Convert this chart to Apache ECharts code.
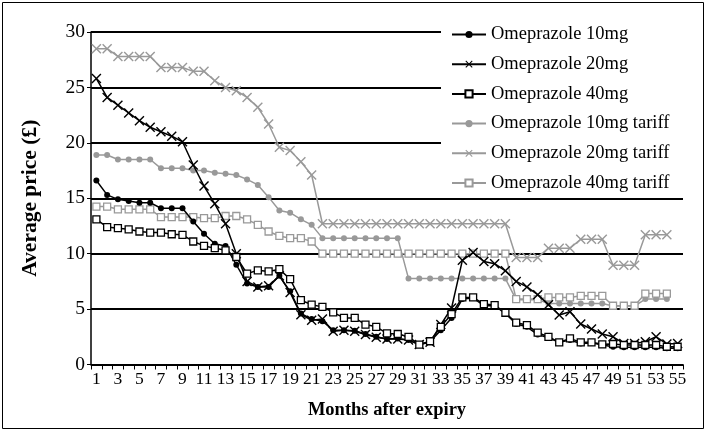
<!DOCTYPE html>
<html><head><meta charset="utf-8">
<script src="https://cdn.jsdelivr.net/npm/echarts@6/dist/echarts.min.js"></script>
<style>html,body{margin:0;padding:0;background:#fff}#c{width:710px;height:432px}</style>
</head><body><div id="c"></div>
<script>
const months = ['1','2','3','4','5','6','7','8','9','10','11','12','13','14','15','16','17','18','19','20','21','22','23','24','25','26','27','28','29','30','31','32','33','34','35','36','37','38','39','40','41','42','43','44','45','46','47','48','49','50','51','52','53','54','55'];
const seriesNames = ['Omeprazole 10mg','Omeprazole 20mg','Omeprazole 40mg','Omeprazole 10mg tariff','Omeprazole 20mg tariff','Omeprazole 40mg tariff'];
const yTicks = [0,5,10,15,20,25,30];

const ome10 = [16.6,15.3,14.9,14.75,14.6,14.6,14.1,14.1,14.1,12.9,11.8,10.9,10.7,9.0,7.3,7.0,7.0,8.0,6.6,4.6,4.1,3.9,3.1,3.1,3.05,2.75,2.5,2.3,2.35,2.2,1.8,2.05,3.1,4.2,5.9,6.0,5.3,5.3,4.6,3.65,3.4,2.7,2.4,2.0,2.2,1.9,1.95,1.76,1.6,1.55,1.55,1.55,1.55,1.46,1.46];
const ome20 = [25.8,24.1,23.4,22.7,22.0,21.4,21.0,20.6,20.1,18.0,16.1,14.5,12.7,10.0,7.5,7.0,7.1,8.0,6.5,4.5,4.0,4.1,3.0,3.1,3.0,2.7,2.45,2.3,2.3,2.2,1.8,2.0,3.6,5.1,9.4,10.1,9.3,9.1,8.45,7.5,7.0,6.3,5.4,4.46,4.76,3.65,3.2,2.75,2.5,1.9,1.9,2.05,2.5,1.85,1.9];
const ome40 = [13.1,12.4,12.3,12.2,12.0,11.9,11.9,11.75,11.7,11.1,10.7,10.5,10.3,9.7,8.2,8.5,8.4,8.6,7.7,5.8,5.4,5.2,4.7,4.2,4.2,3.6,3.4,2.8,2.75,2.5,1.8,2.1,3.4,4.55,6.05,6.05,5.45,5.36,4.67,3.77,3.56,2.87,2.5,2.0,2.36,2.0,2.0,1.82,1.85,1.76,1.76,1.76,1.76,1.6,1.6];
const ome10t = [18.9,18.9,18.5,18.5,18.5,18.5,17.7,17.7,17.7,17.5,17.5,17.3,17.2,17.1,16.7,16.2,15.1,13.9,13.7,13.1,12.6,11.4,11.4,11.4,11.4,11.4,11.4,11.4,11.4,7.75,7.75,7.75,7.75,7.75,7.75,7.75,7.75,7.75,7.75,5.85,5.85,5.85,5.5,5.5,5.5,5.5,5.5,5.5,5.27,5.27,5.27,5.9,5.9,5.9];
const ome20t = [28.5,28.5,27.8,27.8,27.8,27.8,26.8,26.8,26.8,26.45,26.45,25.6,25.0,24.7,24.1,23.2,21.7,19.6,19.3,18.3,17.1,12.7,12.7,12.7,12.7,12.7,12.7,12.7,12.7,12.7,12.7,12.7,12.7,12.7,12.7,12.7,12.7,12.7,12.7,9.65,9.65,9.65,10.5,10.5,10.5,11.3,11.3,11.3,8.95,8.95,8.95,11.7,11.7,11.7];
const ome40t = [14.25,14.25,14.0,14.0,14.0,14.0,13.3,13.3,13.3,13.3,13.2,13.2,13.4,13.4,13.1,12.6,12.0,11.6,11.4,11.4,11.1,10.0,10.0,10.0,10.0,10.0,10.0,10.0,10.0,10.0,10.0,10.0,10.0,10.0,10.0,10.0,10.0,10.0,10.0,5.9,5.9,5.9,6.05,6.05,6.05,6.2,6.2,6.2,5.3,5.3,5.3,6.4,6.4,6.4];

const FONT = "'Liberation Serif','Times New Roman',serif";
const BLACK = '#000000';
const GRAY = '#999999';
const XSYM = 'path://M0,1 L1,0 L5,4 L9,0 L10,1 L6,5 L10,9 L9,10 L5,6 L1,10 L0,9 L4,5 Z';

function mk(name, data, color, kind, z) {
  const s = {
    name: name, type: 'line', data: data, z: z,
    showAllSymbol: true,
    lineStyle: {color: color, width: 1.5},
    emphasis: {disabled: true},
    animation: false
  };
  if (kind === 'circle') {
    s.symbol = 'circle'; s.symbolSize = 6;
    s.itemStyle = {color: color};
  } else if (kind === 'x') {
    s.symbol = XSYM; s.symbolSize = 10;
    s.itemStyle = {color: color};
  } else {
    s.symbol = 'rect'; s.symbolSize = 7;
    s.itemStyle = {color: '#ffffff', borderColor: color, borderWidth: 1.3};
  }
  return s;
}

const chart = echarts.init(document.getElementById('c'), null, {renderer: 'canvas'});
chart.setOption({
  backgroundColor: '#ffffff',
  animation: false,
  textStyle: {fontFamily: FONT},
  graphic: [{
    type: 'rect', z: 100, silent: true,
    shape: {x: 2.5, y: 2.5, width: 701, height: 426},
    style: {fill: 'none', stroke: '#000', lineWidth: 1}
  }],
  grid: {left: 91, right: 27, top: 32, bottom: 67.5, containLabel: false},
  legend: {
    orient: 'vertical', left: 441, top: 20,
    backgroundColor: '#ffffff', padding: [5, 20, 5, 10],
    itemWidth: 34, itemHeight: 9, itemGap: 10.7,
    textStyle: {fontFamily: FONT, fontSize: 18.5, color: '#000'},
    data: seriesNames, z: 10
  },
  xAxis: {
    type: 'category', data: months, boundaryGap: true,
    name: 'Months after expiry', nameLocation: 'middle', nameGap: 36,
    nameTextStyle: {fontFamily: FONT, fontSize: 18.5, fontWeight: 'bold', color: '#000'},
    axisLine: {lineStyle: {color: '#000', width: 1.5}},
    axisTick: {show: true, interval: 0, length: 5, lineStyle: {color: '#000', width: 1}},
    axisLabel: {interval: 1, fontFamily: FONT, fontSize: 17.5, color: '#000', margin: 6, hideOverlap: false},
    splitLine: {show: false}
  },
  yAxis: {
    type: 'value', min: yTicks[0], max: yTicks[yTicks.length - 1], interval: 5,
    name: 'Average price (£)', nameLocation: 'middle', nameGap: 50,
    nameTextStyle: {fontFamily: FONT, fontSize: 21.5, fontWeight: 'bold', color: '#000'},
    axisLine: {show: true, lineStyle: {color: '#000', width: 1.5}},
    axisTick: {show: true, length: 4, lineStyle: {color: '#000', width: 1}},
    axisLabel: {fontFamily: FONT, fontSize: 19.5, color: '#000', margin: 6},
    splitLine: {show: true, lineStyle: {color: '#000', width: 2}}
  },
  series: [
    mk(seriesNames[0], ome10, BLACK, 'circle', 5),
    mk(seriesNames[1], ome20, BLACK, 'x', 5),
    mk(seriesNames[2], ome40, BLACK, 'rect', 5),
    mk(seriesNames[3], ome10t, GRAY, 'circle', 3),
    mk(seriesNames[4], ome20t, GRAY, 'x', 3),
    mk(seriesNames[5], ome40t, GRAY, 'rect', 3)
  ]
});
</script>
</body></html>
